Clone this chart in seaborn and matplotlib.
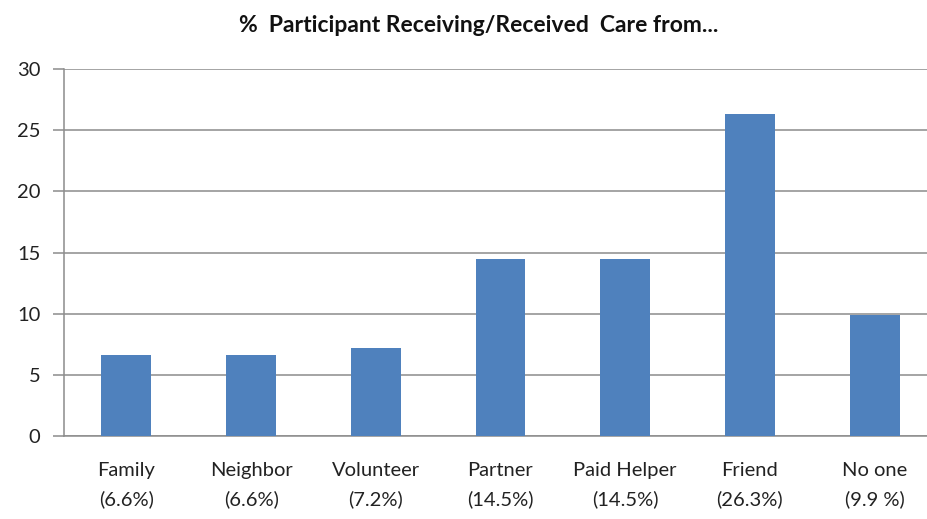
import matplotlib
matplotlib.use("Agg")
import matplotlib.pyplot as plt
import seaborn as sns
import pandas as pd
import numpy as np

categories = ["Family", "Neighbor", "Volunteer", "Partner", "Paid Helper", "Friend", "No one"]
pct_labels = ["(6.6%)", "(6.6%)", "(7.2%)", "(14.5%)", "(14.5%)", "(26.3%)", "(9.9 %)"]
values = [6.6, 6.6, 7.2, 14.5, 14.5, 26.3, 9.9]
yticks = [0, 5, 10, 15, 20, 25, 30]

sns.set_theme(style="white")
plt.rcParams['font.family'] = ['Lato', 'DejaVu Sans']

df = pd.DataFrame({"cat": categories, "val": values})

fig = plt.figure(figsize=(9.27, 5.19), dpi=100)
ax = fig.add_axes([64/927, 83/519, (937-64)/927, (436-69)/519])
sns.barplot(data=df, x="cat", y="val", color="#4F81BD", width=0.4, saturation=1, ax=ax,
            zorder=3, linewidth=0, edgecolor="none")

ax.set_xlim(-0.5, len(categories) - 0.5)
ax.set_ylim(0, 30)
ax.set_yticks(yticks)
ax.set_yticklabels([str(t) for t in yticks], fontsize=14.5, color="#222222")
ax.yaxis.grid(True, color="#8c8c8c", linewidth=1.1, zorder=0)
ax.set_axisbelow(True)
ax.set_xlabel("")
ax.set_ylabel("")

ax.set_xticks(range(len(categories)))
ax.set_xticklabels([f"{c}\n{p}" for c, p in zip(categories, pct_labels)], fontsize=14.5,
                   color="#222222", linespacing=1.75)
ax.tick_params(axis="x", which="major", length=0, pad=19)
ax.set_xticks(np.arange(-0.5, len(categories), 1.0), minor=True)
ax.tick_params(axis="x", which="minor", length=8, width=1.1, color="#8c8c8c", direction="out")
ax.tick_params(axis="y", which="major", length=8, width=1.1, color="#8c8c8c", direction="out", pad=9, left=True)

for s in ["top", "right"]:
    ax.spines[s].set_visible(False)
for s in ["left", "bottom"]:
    ax.spines[s].set_color("#8c8c8c")
    ax.spines[s].set_linewidth(1.1)

fig.text(479/927, 1 - 25/519, "%  Participant Receiving/Received  Care from...", ha="center", va="center",
         fontsize=16.5, fontweight="bold", color="#111111")

fig.savefig("out.png", dpi=100)
